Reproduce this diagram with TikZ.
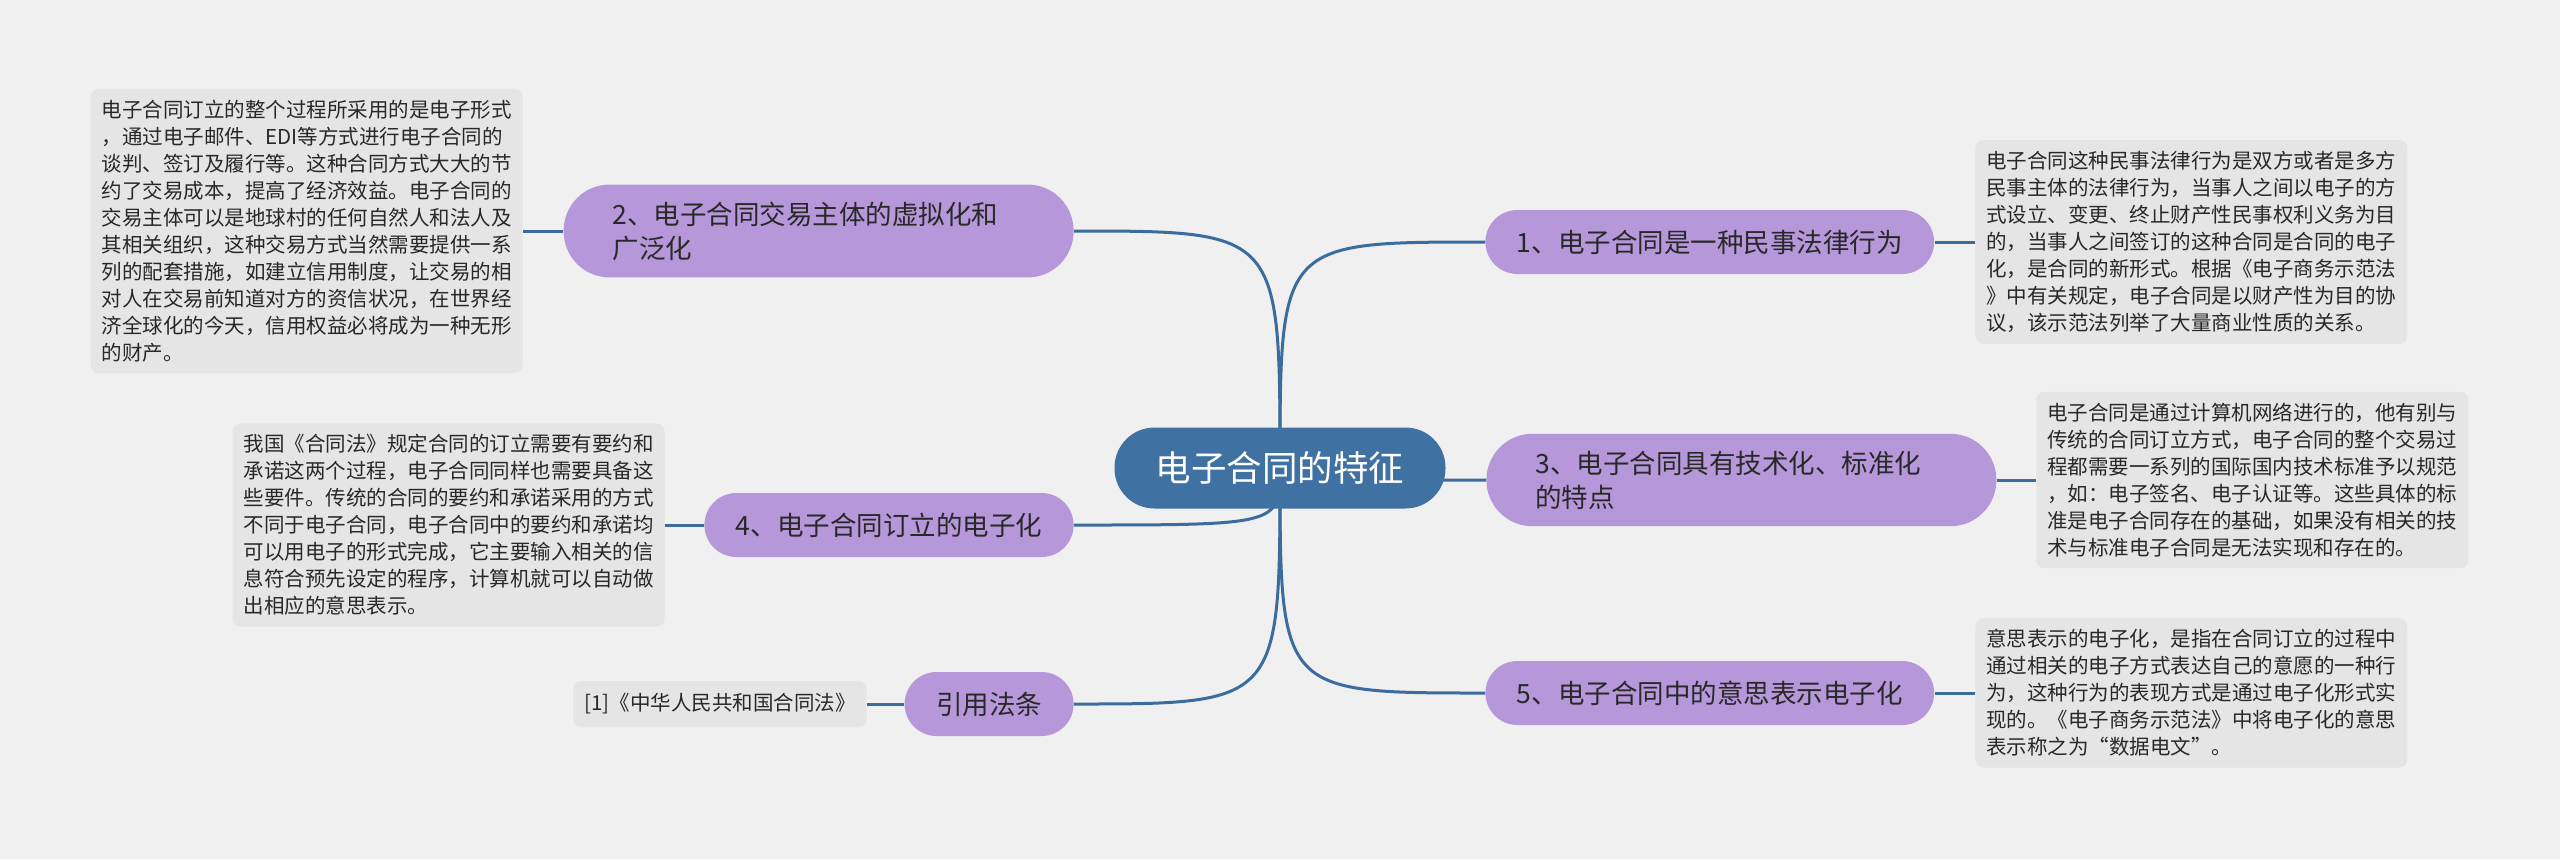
\documentclass[tikz,border=0pt]{standalone}
\usepackage{fontspec}
\newfontfamily\cjk{Noto Sans CJK SC}
\usetikzlibrary{backgrounds}

\definecolor{canvas}{RGB}{240,240,240}
\definecolor{leafgray}{RGB}{229,229,229}
\definecolor{rootblue}{RGB}{63,113,163}
\definecolor{linkblue}{RGB}{58,108,158}
\definecolor{lilac}{RGB}{182,151,217}
\definecolor{ink}{RGB}{40,40,40}

\begin{document}
\begin{tikzpicture}[x=0.5pt, y=-0.5pt,
  root/.style={fill=rootblue, text=white, rounded corners=20pt,
    minimum width=165.5pt, minimum height=40.5pt,
    font=\cjk\fontsize{17.75pt}{21pt}\selectfont},
  branch/.style={fill=lilac, text=ink, rounded corners=16pt,
    minimum height=32pt, inner xsep=15.75pt,
    font=\cjk\fontsize{13.25pt}{17pt}\selectfont},
  twoline/.style={text width=206pt, align=left, inner xsep=24.5pt,
    inner ysep=8.5pt, rounded corners=23pt},
  leaf/.style={fill=leafgray, text=ink, rounded corners=4pt, align=left,
    inner xsep=5.5pt, inner ysep=5.5pt,
    font=\cjk\fontsize{10.25pt}{13.5pt}\selectfont},
  link/.style={draw=linkblue, line width=1.5pt}]

  \useasboundingbox (0,0) rectangle (2560,859);

  % ---------- central topic ----------
  \node[root] (root) at (1280,468) {电子合同的特征};

  % ---------- right branches ----------
  \node[branch, anchor=west] (b1) at (1485,242) {1、电子合同是一种民事法律行为};
  \node[branch, twoline, anchor=west] (b3) at (1486,480)
    {3、电子合同具有技术化、标准化\\的特点};
  \node[branch, anchor=west] (b5) at (1485,693) {5、电子合同中的意思表示电子化};

  % ---------- left branches ----------
  \node[branch, twoline, anchor=east] (b2) at (1074,231)
    {2、电子合同交易主体的虚拟化和\\广泛化};
  \node[branch, anchor=east] (b4) at (1074,525) {4、电子合同订立的电子化};
  \node[branch, anchor=east] (b6) at (1074,704) {引用法条};

  % ---------- notes ----------
  \node[leaf, anchor=west] (l1) at (1975,242) {%
    电子合同这种民事法律行为是双方或者是多方\\
    民事主体的法律行为，当事人之间以电子的方\\
    式设立、变更、终止财产性民事权利义务为目\\
    的，当事人之间签订的这种合同是合同的电子\\
    化，是合同的新形式。根据《电子商务示范法\\
    》中有关规定，电子合同是以财产性为目的协\\
    议，该示范法列举了大量商业性质的关系。};
  \node[leaf, anchor=west] (l3) at (2036,480) {%
    电子合同是通过计算机网络进行的，他有别与\\
    传统的合同订立方式，电子合同的整个交易过\\
    程都需要一系列的国际国内技术标准予以规范\\
    ，如：电子签名、电子认证等。这些具体的标\\
    准是电子合同存在的基础，如果没有相关的技\\
    术与标准电子合同是无法实现和存在的。};
  \node[leaf, anchor=west] (l5) at (1975,693) {%
    意思表示的电子化，是指在合同订立的过程中\\
    通过相关的电子方式表达自己的意愿的一种行\\
    为，这种行为的表现方式是通过电子化形式实\\
    现的。《电子商务示范法》中将电子化的意思\\
    表示称之为“数据电文”。};
  \node[leaf, anchor=east] (l2) at (523,231) {%
    电子合同订立的整个过程所采用的是电子形式\\
    ，通过电子邮件、EDI等方式进行电子合同的\\
    谈判、签订及履行等。这种合同方式大大的节\\
    约了交易成本，提高了经济效益。电子合同的\\
    交易主体可以是地球村的任何自然人和法人及\\
    其相关组织，这种交易方式当然需要提供一系\\
    列的配套措施，如建立信用制度，让交易的相\\
    对人在交易前知道对方的资信状况，在世界经\\
    济全球化的今天，信用权益必将成为一种无形\\
    的财产。};
  \node[leaf, anchor=east] (l4) at (665,525) {%
    我国《合同法》规定合同的订立需要有要约和\\
    承诺这两个过程，电子合同同样也需要具备这\\
    些要件。传统的合同的要约和承诺采用的方式\\
    不同于电子合同，电子合同中的要约和承诺均\\
    可以用电子的形式完成，它主要输入相关的信\\
    息符合预先设定的程序，计算机就可以自动做\\
    出相应的意思表示。};
  \node[leaf, anchor=east, minimum height=23pt] (l6) at (867,704)
    {[1]《中华人民共和国合同法》};

  % ---------- connectors (behind the nodes) ----------
  \begin{scope}[on background layer]
    \fill[canvas] (0,0) rectangle (2560,859);
    \foreach \b in {b1,b3,b5}
      \draw[link] (root.center) .. controls (root.center |- \b.west) .. (\b.west);
    \foreach \b in {b2,b4,b6}
      \draw[link] (root.center) .. controls (root.center |- \b.east) .. (\b.east);
    \foreach \b/\l in {b1/l1,b3/l3,b5/l5}
      \draw[link] (\b.east) -- (\l.west);
    \foreach \b/\l in {b2/l2,b4/l4,b6/l6}
      \draw[link] (\b.west) -- (\l.east);
  \end{scope}

\end{tikzpicture}
\end{document}
